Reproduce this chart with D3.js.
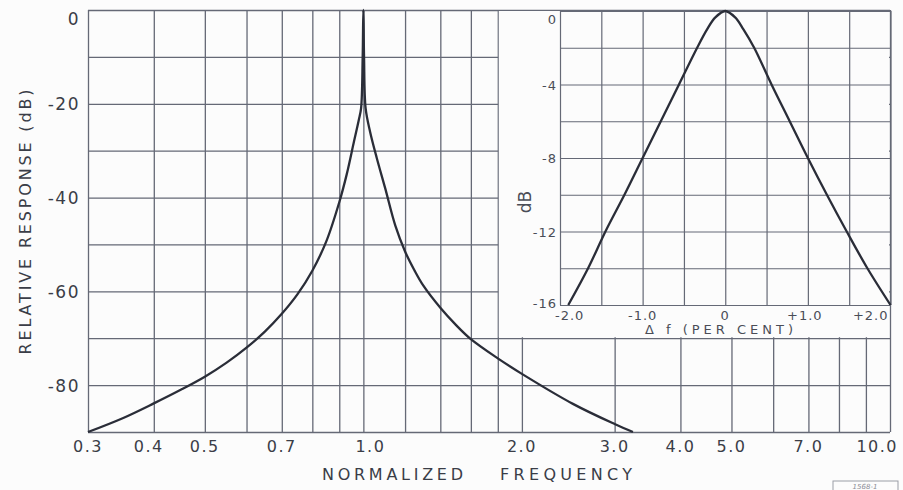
<!DOCTYPE html>
<html>
<head>
<meta charset="utf-8">
<script src="https://cdn.jsdelivr.net/npm/d3@7/dist/d3.min.js"></script>
<style>
  html, body { margin: 0; padding: 0; background: #fcfcfc; }
  svg { display: block; }
  text { font-family: "DejaVu Sans", sans-serif; fill: #3a3d47; }
</style>
</head>
<body>
<svg id="chart" width="903" height="490"></svg>
<script>
// ---------- data ----------
const mainFreq = [0.3, 0.35, 0.4, 0.45, 0.5, 0.55, 0.6, 0.65, 0.7, 0.75, 0.8, 0.85, 0.9, 0.93, 0.96, 0.98, 0.99, 0.997, 1.0,
                  1.003, 1.01, 1.03, 1.06, 1.1, 1.15, 1.2, 1.25, 1.3, 1.4, 1.5, 1.6, 1.8, 2.0, 2.5, 3.0, 3.25];
const mainDb   = [-90, -87.0, -83.9, -81.0, -78.2, -75.2, -72.0, -68.6, -64.8, -60.6, -55.6, -49.4, -41.0, -35.0, -28.0, -23.5, -21.0, -10, 0,
                  -10, -21.0, -26.0, -31.5, -38.0, -46.0, -51.5, -55.5, -58.8, -63.5, -67.2, -70.2, -74.3, -77.6, -84.0, -88.3, -90];

const insetDf = [-1.90, -1.66, -1.45, -1.22, -1.0, -0.78, -0.56, -0.34, -0.22, -0.12, 0, 0.12, 0.22, 0.35, 0.56, 0.78, 1.0, 1.23, 1.47, 1.72, 2.0];
const insetDb = [-16, -14, -12, -10, -8, -6, -4, -2, -1.0, -0.35, 0, -0.35, -1.0, -2, -4, -6, -8, -10, -12, -14, -16];

const mainXGrid = [0.3, 0.4, 0.5, 0.6, 0.7, 0.8, 0.9, 1.0, 1.2, 1.4, 1.6, 1.8, 2.0, 3, 4, 5, 6, 7, 8, 9, 10];
const mainXTicks = [0.3, 0.4, 0.5, 0.7, 1.0, 2.0, 3.0, 4.0, 5.0, 7.0, 10.0];
const mainXLabels = ["0.3", "0.4", "0.5", "0.7", "1.0", "2.0", "3.0", "4.0", "5.0", "7.0", "10.0"];
const mainYGrid = [0, -10, -20, -30, -40, -50, -60, -70, -80, -90];
const mainYTicks = [0, -20, -40, -60, -80];
const mainYLabels = ["0", "-20", "-40", "-60", "-80"];

const insetXGrid = [-2, -1.5, -1, -0.5, 0, 0.5, 1, 1.5, 2];
const insetXTicks = [-2, -1, 0, 1, 2];
const insetXLabels = ["-2.0", "-1.0", "0", "+1.0", "+2.0"];
const insetYGrid = [0, -2, -4, -6, -8, -10, -12, -14, -16];
const insetYTicks = [0, -4, -8, -12, -16];
const insetYLabels = ["0", "-4", "-8", "-12", "-16"];

// ---------- setup ----------
const svg = d3.select("#chart");
const gridColor = "#656976";
const curveColor = "#2a2d38";

const x = d3.scaleLog().domain([0.3, 10]).range([88, 890]);
const y = d3.scaleLinear().domain([0, -90]).range([10, 432]);

// main grid via axes
const gx = svg.append("g").attr("transform", `translate(0,${y(0)})`)
  .call(d3.axisBottom(x).tickValues(mainXGrid).tickSize(y(-90) - y(0)).tickFormat(""));
const gy = svg.append("g").attr("transform", `translate(${x(0.3)},0)`)
  .call(d3.axisRight(y).tickValues(mainYGrid).tickSize(x(10) - x(0.3)).tickFormat(""));
[gx, gy].forEach(g => {
  g.select(".domain").remove();
  g.selectAll("line").attr("stroke", gridColor).attr("stroke-width", 1.3);
});

// main curve
const mainData = mainFreq.map((f, i) => [f, mainDb[i]]);
svg.append("path").datum(mainData)
  .attr("fill", "none").attr("stroke", curveColor).attr("stroke-width", 2.3)
  .attr("stroke-linejoin", "round")
  .attr("d", d3.line().x(d => x(d[0])).y(d => Math.max(y(d[1]), y(0))).curve(d3.curveCatmullRom.alpha(0.5)));

// main labels
svg.append("g").selectAll("text").data(mainYTicks).join("text")
  .attr("x", x(0.3) - 8)
  .attr("y", (d, i) => i === 0 ? y(d) + 15 : y(d) + 6.5)
  .attr("text-anchor", "end").attr("font-size", 17).attr("letter-spacing", 1.5)
  .text((d, i) => mainYLabels[i]);

svg.append("g").selectAll("text").data(mainXTicks).join("text")
  .attr("x", (d, i) => {
    const v = mainXLabels[i];
    if (v === "10.0") return x(d) + 8;
    if (v === "1.0") return x(d) + 7;
    if (v === "0.4") return x(d) - 5;
    return x(d);
  })
  .attr("y", 452)
  .attr("text-anchor", (d, i) => mainXLabels[i] === "10.0" ? "end" : "middle")
  .attr("font-size", 16).attr("letter-spacing", 1.5)
  .text((d, i) => mainXLabels[i]);

svg.append("text")
  .attr("transform", "translate(31,222) rotate(-90)")
  .attr("text-anchor", "middle").attr("font-size", 16)
  .attr("textLength", 265).attr("lengthAdjust", "spacing")
  .text("RELATIVE  RESPONSE  (dB)");

svg.append("text").attr("x", 322).attr("y", 480).attr("font-size", 16)
  .attr("textLength", 141).attr("lengthAdjust", "spacing").text("NORMALIZED");
svg.append("text").attr("x", 500).attr("y", 480).attr("font-size", 16)
  .attr("textLength", 132).attr("lengthAdjust", "spacing").text("FREQUENCY");

// ---------- inset ----------
const xi = d3.scaleLinear().domain([-2, 2]).range([560, 890.5]);
const yi = d3.scaleLinear().domain([0, -16]).range([11, 305]);

svg.append("rect")
  .attr("x", x(1.8) + 1).attr("y", y(0) + 1)
  .attr("width", x(10) - x(1.8) - 2).attr("height", y(-70) - y(0) - 2)
  .attr("fill", "#fcfcfc");

const gxi = svg.append("g").attr("transform", `translate(0,${yi(0)})`)
  .call(d3.axisBottom(xi).tickValues(insetXGrid).tickSize(yi(-16) - yi(0)).tickFormat(""));
const gyi = svg.append("g").attr("transform", `translate(${xi(-2)},0)`)
  .call(d3.axisRight(yi).tickValues(insetYGrid).tickSize(xi(2) - xi(-2)).tickFormat(""));
[gxi, gyi].forEach(g => {
  g.select(".domain").remove();
  g.selectAll("line").attr("stroke", gridColor).attr("stroke-width", 1.2);
});

const insetData = insetDf.map((d, i) => [d, insetDb[i]]);
svg.append("path").datum(insetData)
  .attr("fill", "none").attr("stroke", curveColor).attr("stroke-width", 2.3)
  .attr("d", d3.line().x(d => xi(d[0])).y(d => yi(d[1])).curve(d3.curveCatmullRom.alpha(0.5)));

svg.append("g").selectAll("text").data(insetYTicks).join("text")
  .attr("x", xi(-2) - 3)
  .attr("y", (d, i) => i === 0 ? yi(d) + 13 : (i === 4 ? yi(d) + 3 : yi(d) + 5))
  .attr("text-anchor", "end").attr("font-size", 13).attr("letter-spacing", 1)
  .style("fill", "#4a4d57")
  .text((d, i) => insetYLabels[i]);

svg.append("g").selectAll("text").data(insetXTicks).join("text")
  .attr("x", (d, i) => {
    if (i === 0) return xi(d) - 5;
    if (i === 4) return xi(d) - 2;
    if (i === 3) return xi(d) - 3;
    return xi(d);
  })
  .attr("y", 320)
  .attr("text-anchor", (d, i) => i === 0 ? "start" : (i === 4 ? "end" : "middle"))
  .attr("font-size", 13).attr("letter-spacing", 1)
  .style("fill", "#4a4d57")
  .text((d, i) => insetXLabels[i]);

svg.append("text").attr("x", 645).attr("y", 334).attr("font-size", 13)
  .attr("textLength", 148).attr("lengthAdjust", "spacing")
  .style("fill", "#4a4d57")
  .text("Δ f (PER CENT)");

svg.append("text")
  .attr("transform", "translate(531,202) rotate(-90)")
  .attr("text-anchor", "middle").attr("font-size", 17)
  .style("fill", "#4a4d57")
  .text("dB");

// drawing number tag
svg.append("rect").attr("x", 833).attr("y", 481).attr("width", 65).attr("height", 11)
  .attr("fill", "none").attr("stroke", "#9a9da6").attr("stroke-width", 1);
svg.append("text").attr("x", 865).attr("y", 489).attr("text-anchor", "middle")
  .attr("font-size", 7).attr("font-style", "italic").style("fill", "#8a8d96")
  .text("1568-1");
</script>
</body>
</html>
